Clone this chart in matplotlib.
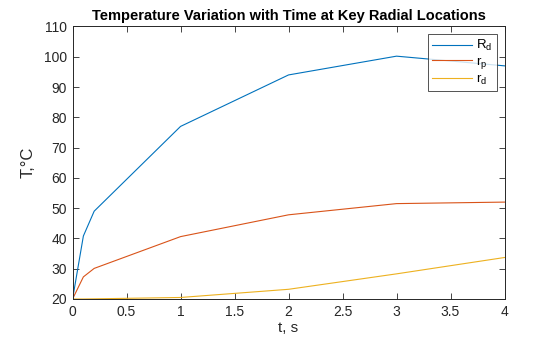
import matplotlib
matplotlib.use("Agg")
import matplotlib.pyplot as plt
from matplotlib.ticker import FormatStrFormatter, MultipleLocator

plt.rcParams['font.family'] = ['Liberation Sans', 'DejaVu Sans']
plt.rcParams['mathtext.fontset'] = 'custom'
plt.rcParams['mathtext.rm'] = 'Liberation Sans'
plt.rcParams['mathtext.it'] = 'Liberation Sans'

# Time samples (s) and temperatures (deg C) at three radial locations
t = [0, 0.1, 0.2, 1, 2, 3, 4]
T_Rd = [20, 40.8, 49.0, 77.0, 94.0, 100.2, 97.0]
T_rp = [20, 27.3, 30.1, 40.6, 47.8, 51.5, 52.0]
T_rd = [20, 20.0, 20.05, 20.5, 23.2, 28.3, 33.7]

labels = [r'R$_\mathrm{d}$', r'r$_\mathrm{p}$', r'r$_\mathrm{d}$']
colors = ['#0072BD', '#D95319', '#EDB120']

fig = plt.figure(figsize=(5.6, 3.37), dpi=100)
ax = fig.add_axes([0.1296, 0.1128, 0.9009 - 0.1296, 0.9214 - 0.1128])

for y, lab, c in zip([T_Rd, T_rp, T_rd], labels, colors):
    ax.plot(t, y, color=c, lw=0.8, label=lab)

ax.set_xlim(0, 4)
ax.set_ylim(20, 110)
ax.xaxis.set_major_locator(MultipleLocator(0.5))
ax.yaxis.set_major_locator(MultipleLocator(10))
ax.xaxis.set_major_formatter(FormatStrFormatter('%g'))
ax.yaxis.set_major_formatter(FormatStrFormatter('%g'))
ax.tick_params(direction='in', top=True, right=True, length=4, width=0.6,
               labelsize=10, colors='#262626', pad=4)
for s in ax.spines.values():
    s.set_linewidth(0.7)
    s.set_color('#262626')

ax.set_title('Temperature Variation with Time at Key Radial Locations',
             fontsize=10.5, fontweight='bold', color='#000000', pad=5)
ax.set_xlabel('t, s', fontsize=11, color='#262626', labelpad=2)
ax.set_ylabel('T,°C', fontsize=12, color='#262626', labelpad=6)

leg = ax.legend(loc='upper right', fontsize=9.5, frameon=True, fancybox=False,
                edgecolor='#262626', handlelength=3.0, borderaxespad=0.6,
                labelspacing=0.12, handletextpad=0.35, borderpad=0.3)
leg.get_frame().set_linewidth(0.7)

fig.savefig('out.png', dpi=100)
